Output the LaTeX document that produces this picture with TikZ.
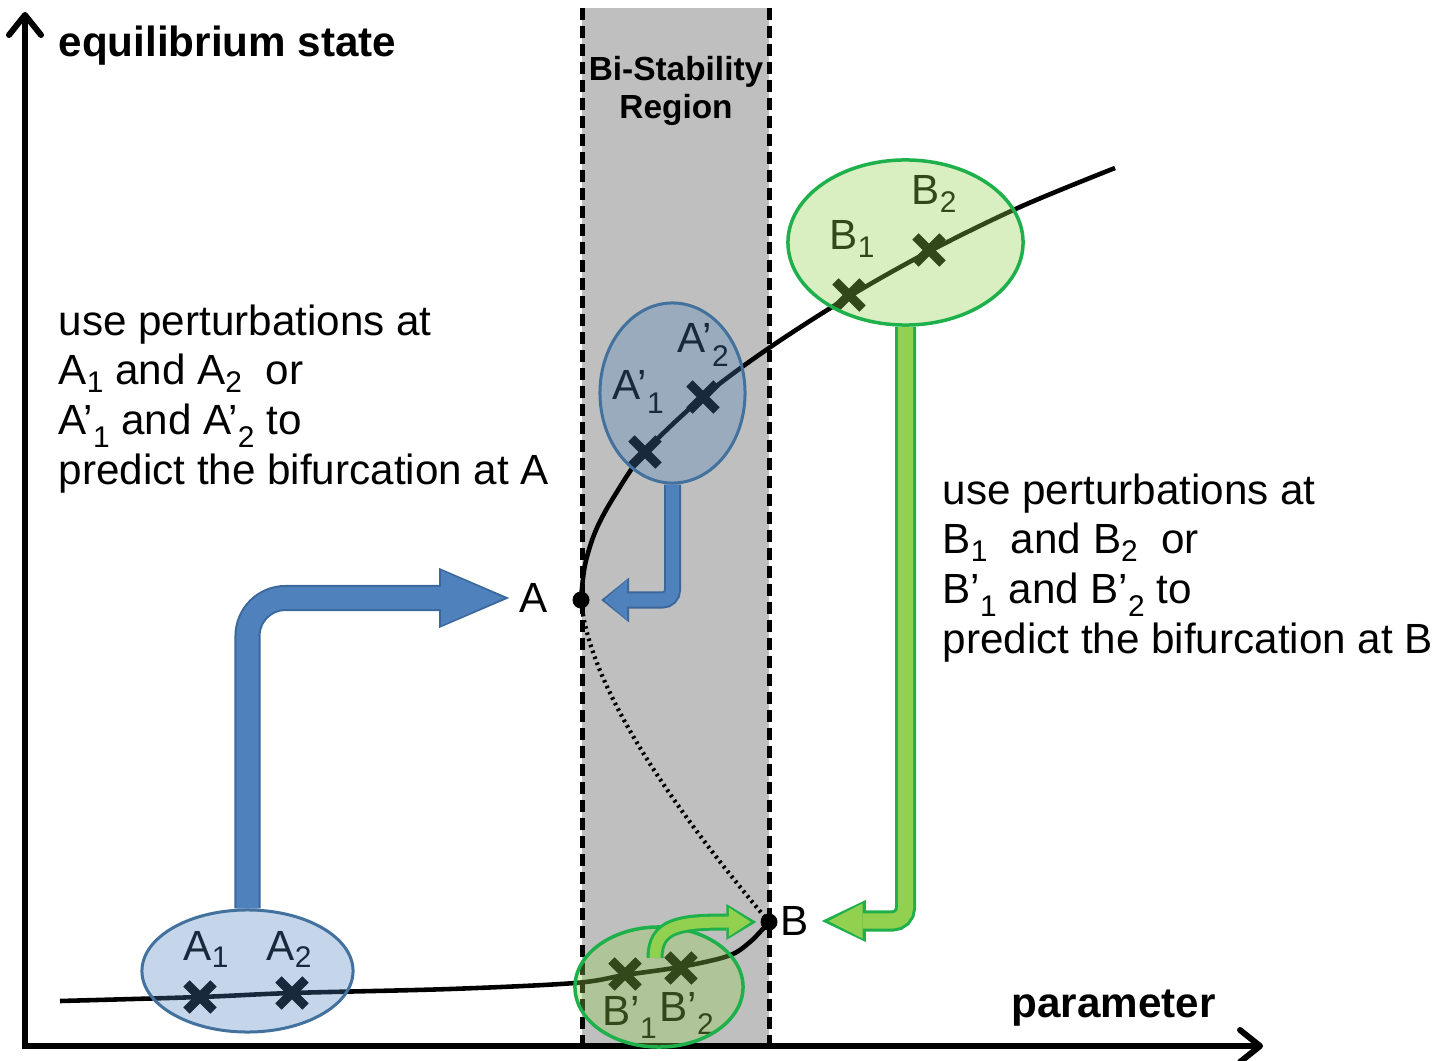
\documentclass[tikz,border=0pt]{standalone}
\usepackage{fontspec}
\setmainfont{Liberation Sans}
\usepackage{tikz}
\usetikzlibrary{arrows.meta,shapes.geometric,shapes.misc}
\definecolor{bandgray}{HTML}{BFBFBF}
\definecolor{blueedge}{HTML}{3A679C}
\definecolor{bluefill}{HTML}{4F81BD}
\definecolor{ovalblue}{HTML}{41719C}
\definecolor{greenedge}{HTML}{1DB04B}
\definecolor{greenfill}{HTML}{92D050}
\newcommand{\lo}[1]{\raisebox{-0.35ex}{\fontsize{8.5}{8.5}\selectfont #1}}
\newcommand{\plo}[1]{’\raisebox{-0.6ex}{\fontsize{8.5}{8.5}\selectfont #1}}
\tikzset{
  axis/.style={line width=0.06cm,{Straight Barb[length=0.2cm,width=0.32cm,round]}-{Straight Barb[length=0.2cm,width=0.32cm,round]}},
  bandedge/.style={line width=0.05cm,dash pattern=on 0.12cm off 0.06cm},
  branch/.style={line width=1.3pt},
  unstable/.style={line width=1.2pt,dash pattern=on 0.7pt off 1.1pt},
  xmark/.style={cross out,draw=black,line width=0.09cm,minimum size=0.18cm,inner sep=0pt},
  fold/.style={circle,fill=black,minimum size=0.17cm,inner sep=0pt},
  bluezone/.style={ellipse,draw=ovalblue,line width=0.03cm,fill=bluefill,fill opacity=0.32,inner sep=0pt},
  greenzone/.style={ellipse,draw=greenedge,line width=0.035cm,fill=greenfill,fill opacity=0.35,inner sep=0pt},
  lab/.style={font=\fontsize{12}{14}\selectfont,inner sep=0pt,anchor=base west},
  note/.style={font=\fontsize{12}{14.1}\selectfont,align=left,inner sep=0pt,anchor=north west},
  title/.style={font=\bfseries\fontsize{12}{14}\selectfont,inner sep=0pt,anchor=base west}
}
\begin{document}
\begin{tikzpicture}[x=0.01cm,y=-0.01cm]
  \useasboundingbox (0,0) rectangle (1448,1061);
  % bi-stability band
  \fill[bandgray] (582,8) rectangle (769,1046);
  \draw[bandedge] (582,8) -- (582,1046);
  \draw[bandedge] (769,8) -- (769,1046);
  \node[font=\bfseries\fontsize{9.5}{10.8}\selectfont,align=center,inner sep=0pt,anchor=north] (region) at (676,56) {Bi-Stability\\Region};
  % axes
  \coordinate (orig) at (25,1046);
  \coordinate (ytop) at (25,12);
  \coordinate (xend) at (1263,1046);
  \draw[axis] (ytop) -- (orig) -- (xend);
  \node[title] (ylabel) at (58,57) {equilibrium state};
  \node[title] (xlabel) at (1011,1017) {parameter};
  % fold points
  \node[fold] (apt) at (581,600) {};
  \node[fold] (bpt) at (769,922) {};
  \node[font=\fontsize{12}{14}\selectfont,inner sep=0.1cm] (alab) at (534,598) {A};
  \node[font=\fontsize{12}{14}\selectfont,inner sep=0.12cm] (blab) at (795,921) {B};
  % equilibrium curve
  \draw[branch] plot[smooth,tension=0.55] coordinates {(60,1001) (200,997) (292,993) (450,989) (575,983) (625,975) (680,967) (728,956) (750,942) (769,922)};
  \draw[unstable] (bpt.center) .. controls (700,840) and (590,700) .. (apt.center);
  \draw[branch] plot[smooth,tension=0.55] coordinates {(581,600) (585,565) (596,530) (615,495) (645,452) (703,397) (769,348) (850,296) (930,251) (1020,207) (1115,168)};
  % perturbation points
  \node[xmark] (a1x) at (200,997) {};
  \node[xmark] (a2x) at (292,993) {};
  \node[xmark] (ap1x) at (645,452) {};
  \node[xmark] (ap2x) at (703,397) {};
  \node[xmark] (b1x) at (849,295) {};
  \node[xmark] (b2x) at (929,250) {};
  \node[xmark] (bp1x) at (625,974) {};
  \node[xmark] (bp2x) at (681,968) {};
  \node[lab] (a1lab) at (183,960) {A\lo{1}};
  \node[lab] (a2lab) at (266,960) {A\lo{2}};
  \node[lab] (ap1lab) at (612,400) {A\plo{1}};
  \node[lab] (ap2lab) at (677,353) {A\plo{2}};
  \node[lab] (b1lab) at (829,250) {B\lo{1}};
  \node[lab] (b2lab) at (911,205) {B\lo{2}};
  \node[lab] (bp1lab) at (602,1025) {B\plo{1}};
  \node[lab] (bp2lab) at (659,1021) {B\plo{2}};
  % neighbourhoods
  \node[bluezone,minimum width=2.11cm,minimum height=1.22cm] (aell) at (247.5,971) {};
  \node[bluezone,minimum width=1.45cm,minimum height=1.80cm] (apell) at (672.5,393) {};
  \node[greenzone,minimum width=2.35cm,minimum height=1.65cm] (bell) at (905.5,242.5) {};
  \node[greenzone,minimum width=1.68cm,minimum height=1.20cm] (bpell) at (659,987) {};
  % block arrows: outline pass, then body pass
  \draw[draw=blueedge,line width=0.26cm,rounded corners=0.38cm,-{Triangle[length=0.70cm,width=0.60cm,line width=0pt]}] (aell.north) |- (alab.west);
  \draw[draw=bluefill,line width=0.22cm,rounded corners=0.38cm,shorten >=0.05cm,-{Triangle[length=0.63cm,width=0.55cm,line width=0pt]}] (aell.north) |- (alab.west);
  \draw[draw=blueedge,line width=0.17cm,rounded corners=0.1cm,shorten >=0.11cm,-{Triangle[length=0.28cm,width=0.45cm,line width=0pt]}] (apell.south) |- (apt);
  \draw[draw=bluefill,line width=0.13cm,rounded corners=0.1cm,shorten >=0.14cm,-{Triangle[length=0.23cm,width=0.40cm,line width=0pt]}] (apell.south) |- (apt);
  \draw[draw=greenedge,line width=0.21cm,rounded corners=0.13cm,-{Triangle[length=0.44cm,width=0.42cm,line width=0pt]}] (bell.south) |- (blab.east);
  \draw[draw=greenfill,line width=0.15cm,rounded corners=0.13cm,shorten >=0.067cm,-{Triangle[length=0.34cm,width=0.35cm,line width=0pt]}] (bell.south) |- (blab.east);
  \coordinate (bpfoot) at (655,958);
  \draw[draw=greenedge,line width=0.17cm,shorten >=0.035cm,-{Triangle[length=0.30cm,width=0.36cm,line width=0pt]}] (bpfoot) .. controls (655,925) and (680,922) .. (bpt);
  \draw[draw=greenfill,line width=0.11cm,shorten >=0.09cm,-{Triangle[length=0.22cm,width=0.29cm,line width=0pt]}] (bpfoot) .. controls (655,925) and (680,922) .. (bpt);
  % explanations
  \node[note] (atext) at (58,304) {use perturbations at\\A\lo{1} and A\lo{2}\ \ or\\A\plo{1} and A\plo{2} to\\predict the bifurcation at A};
  \node[note] (btext) at (942,473) {use perturbations at\\B\lo{1}\ \ and B\lo{2}\ \ or\\B\plo{1} and B\plo{2} to\\predict the bifurcation at B};
\end{tikzpicture}
\end{document}
